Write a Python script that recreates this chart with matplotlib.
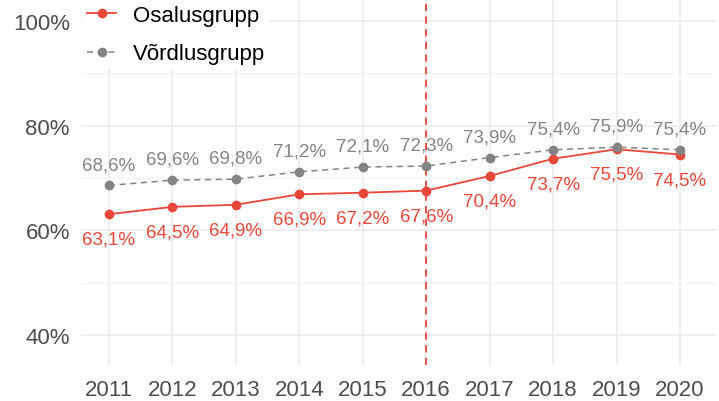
import matplotlib.pyplot as plt
from matplotlib.ticker import FixedLocator

plt.rcParams['font.family'] = ['Liberation Sans', 'DejaVu Sans']

years = [2011, 2012, 2013, 2014, 2015, 2016, 2017, 2018, 2019, 2020]
osalus = [63.1, 64.5, 64.9, 66.9, 67.2, 67.6, 70.4, 73.7, 75.5, 74.5]
vordlus = [68.6, 69.6, 69.8, 71.2, 72.1, 72.3, 73.9, 75.4, 75.9, 75.4]
y_ticks = [40, 60, 80, 100]

red = '#E8473A'
grey = '#848484'

fig = plt.figure(figsize=(7.19, 4.02), dpi=100)
ax = fig.add_axes([0.1127, 0.0896, 0.8833, 0.9104])

ax.plot(years, osalus, color=red, lw=1.3, marker='o', ms=6, label='Osalusgrupp', zorder=3)
ax.plot(years, vordlus, color=grey, lw=1.1, ls=(0, (4, 3)), marker='o', ms=6,
        label='Võrdlusgrupp', zorder=3)
ax.axvline(2016, color=red, lw=1.3, ls=(0, (4, 3)), zorder=2)

for x, y in zip(years, osalus):
    label = f'{y:.1f}%'.replace('.', ',')
    ax.annotate(label, (x, y), xytext=(0, -18), textcoords='offset points',
                ha='center', va='center', color=red, fontsize=13.5)
for x, y in zip(years, vordlus):
    label = f'{y:.1f}%'.replace('.', ',')
    ax.annotate(label, (x, y), xytext=(0, 15), textcoords='offset points',
                ha='center', va='center', color=grey, fontsize=13.5)

ax.set_xlim(2010.56, 2020.57)
ax.set_ylim(34.3, 104.2)
ax.set_xticks(years)
ax.set_yticks(y_ticks)
ax.set_yticklabels([f'{t}%' for t in y_ticks])
ax.yaxis.set_minor_locator(FixedLocator([50, 70, 90]))
ax.grid(which='major', color='#EBEBEB', lw=1.2)
ax.grid(which='minor', axis='y', color='#F2F2F2', lw=0.8)
ax.set_axisbelow(True)
for s in ax.spines.values():
    s.set_visible(False)
ax.tick_params(which='both', length=0, labelsize=16, labelcolor='#4D4D4D')
ax.tick_params(axis='x', pad=10)
ax.tick_params(axis='y', pad=8)

leg = ax.legend(loc='upper left', bbox_to_anchor=(-0.015, 1.027), fontsize=16, frameon=True,
                edgecolor='none', framealpha=1, handlelength=1.3, labelspacing=0.8,
                borderpad=0.2, handletextpad=0.75)
leg.set_zorder(5)

fig.savefig('out.png', dpi=100)
